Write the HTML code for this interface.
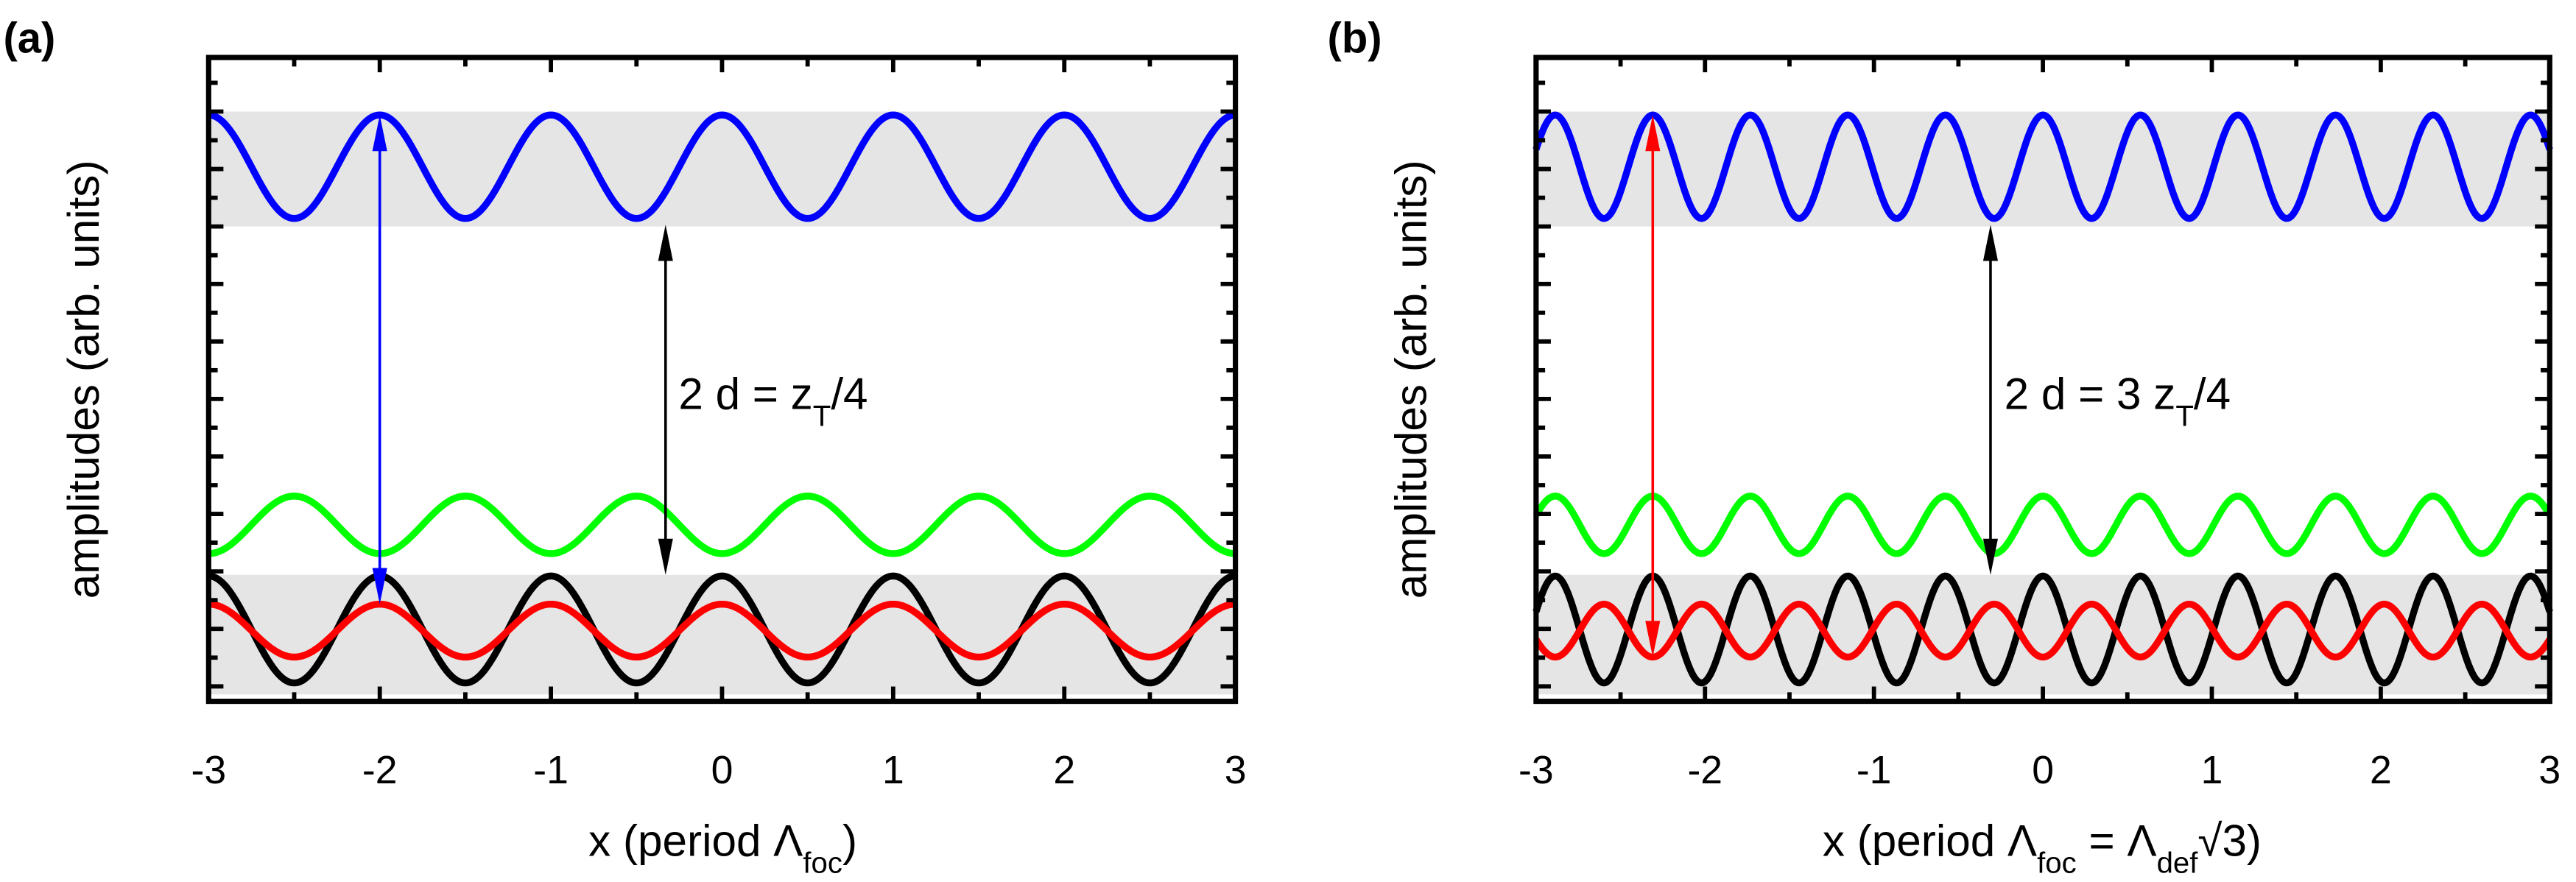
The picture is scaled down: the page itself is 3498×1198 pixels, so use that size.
<!DOCTYPE html>
<html><head><meta charset="utf-8"><style>
html,body{margin:0;padding:0;background:#fff}
svg{display:block;font-family:"Liberation Sans",Arial,sans-serif}
</style></head><body>
<svg id="chart" width="3498" height="1198" viewBox="0 0 1568 537" xmlns="http://www.w3.org/2000/svg"></svg>
<script>
// x-axis tick labels
const xTicks = [-3,-2,-1,0,1,2,3];
// series: offset (center), amplitude, spatial frequency, phase sign
const seriesNames = ['blue','green','black','red'];
const seriesColors = ['#0000ff','#00ff00','#000000','#ff0000'];
const centersA = [9.24, 3.01, 1.19, 1.17];
const ampsA = [0.90, 0.50, 0.93, 0.46];
const signsA = [1, -1, 1, 1];
const centersB = [9.24, 3.01, 1.19, 1.17];
const ampsB = [0.90, 0.50, 0.93, 0.46];
const signsB = [1, 1, 1, -1];
const freqA = 1;
const freqB = Math.sqrt(3);
const bands = [[8.2,10.2],[0.06,2.14]];

const NS='http://www.w3.org/2000/svg';
const svg=document.getElementById('chart');
function el(tag,attrs,parent){const e=document.createElementNS(NS,tag);for(const k in attrs)e.setAttribute(k,attrs[k]);(parent||svg).appendChild(e);return e;}

function panel(px0,px1,label,lblX,centers,amps,signs,freq,arrows,annot,annotX,xtitleParts,xtitleX,ytitleX,pname){
  const top=35,bot=427,yMin=-0.06,yMax=11.14;
  const X=v=>px0+(v+3)/6*(px1-px0);
  const Y=v=>bot-(v-yMin)/(yMax-yMin)*(bot-top);
  const g=el('g',{});
  
  
  bands.forEach((b,i)=>{const r=el('rect',{x:px0,y:Y(b[1]),width:px1-px0,height:Y(b[0])-Y(b[1]),fill:'#e5e5e5'},g);
    
    });
  seriesNames.forEach((n,i)=>{
    let d='';
    for(let k=0;k<=600;k++){const x=-3+6*k/600;const y=centers[i]+signs[i]*amps[i]*Math.cos(2*Math.PI*freq*x);d+=(k?'L':'M')+X(x).toFixed(2)+','+Y(y).toFixed(2);}
    const p=el('path',{d:d,fill:'none',stroke:seriesColors[i],'stroke-width':4.2},g);
    
    
  });
  arrows.forEach(a=>{
    const x=X(a.x),y1=Y(a.y1),y2=Y(a.y2);
    const ln=el('line',{x1:x,x2:x,y1:y1+12,y2:y2-12,stroke:a.c,'stroke-width':1.6},g);
    
    
    el('polygon',{points:`${x},${y1} ${x-4.5},${y1+22} ${x+4.5},${y1+22}`,fill:a.c},g);
    el('polygon',{points:`${x},${y2} ${x-4.5},${y2-22} ${x+4.5},${y2-22}`,fill:a.c},g);
  });
  const fr=el('rect',{x:px0,y:top,width:px1-px0,height:bot-top,fill:'none',stroke:'#000','stroke-width':3.2},g);
  
  
  for(let v=-3;v<=3.001;v+=0.5){const maj=Math.abs(v-Math.round(v))<1e-6;const L=maj?9:5.5;
    el('line',{x1:X(v),x2:X(v),y1:bot,y2:bot-L,stroke:'#000','stroke-width':2.6},g);
    el('line',{x1:X(v),x2:X(v),y1:top,y2:top+L,stroke:'#000','stroke-width':2.6},g);}
  for(let v=0.2;v<=11;v+=0.5){const maj=Math.abs((v-0.2)-Math.round(v-0.2))<1e-6;const L=maj?9:5.5;
    el('line',{x1:px0,x2:px0+L,y1:Y(v),y2:Y(v),stroke:'#000','stroke-width':2.6},g);
    el('line',{x1:px1,x2:px1-L,y1:Y(v),y2:Y(v),stroke:'#000','stroke-width':2.6},g);}
  xTicks.forEach(t=>{const tx=el('text',{x:X(t),y:477,'font-size':24,'text-anchor':'middle'},g);tx.textContent=t;
    
    });
  const xt=el('text',{x:xtitleX,y:521,'font-size':27,'text-anchor':'middle'},g);
  xt.innerHTML=xtitleParts;
  
  
  const yt=el('text',{x:ytitleX,y:231,'font-size':27,'text-anchor':'middle',transform:`rotate(-90 ${ytitleX} 231)`},g);
  yt.textContent='amplitudes (arb. units)';
  
  
  const lb=el('text',{x:lblX,y:32,'font-size':26,'font-weight':'bold'},g);lb.textContent=label;
  
  
  const an=el('text',{x:annotX,y:249,'font-size':27},g);an.innerHTML=annot;
  
  
}
panel(127,752,'(a)',2,centersA,ampsA,signsA,freqA,
 [{x:-2,y1:10.14,y2:1.63,c:'#0000ff',n:'blue-arrow'},{x:-0.33,y1:8.23,y2:2.14,c:'#000',n:'black-arrow'}],
 '2 d = z<tspan baseline-shift="sub" font-size="18">T</tspan>/4',413,
 'x (period Λ<tspan baseline-shift="sub" font-size="18">foc</tspan>)',440,60,'panel-a');
panel(935,1552,'(b)',808,centersB,ampsB,signsB,freqB,
 [{x:-4/Math.sqrt(3),y1:10.14,y2:0.71,c:'#ff0000',n:'red-arrow'},{x:-0.31,y1:8.23,y2:2.14,c:'#000',n:'black-arrow'}],
 '2 d = 3 z<tspan baseline-shift="sub" font-size="18">T</tspan>/4',1220,
 'x (period Λ<tspan baseline-shift="sub" font-size="18">foc</tspan> = Λ<tspan baseline-shift="sub" font-size="18">def</tspan>√3)',1243,868,'panel-b');
</script>
</body></html>
